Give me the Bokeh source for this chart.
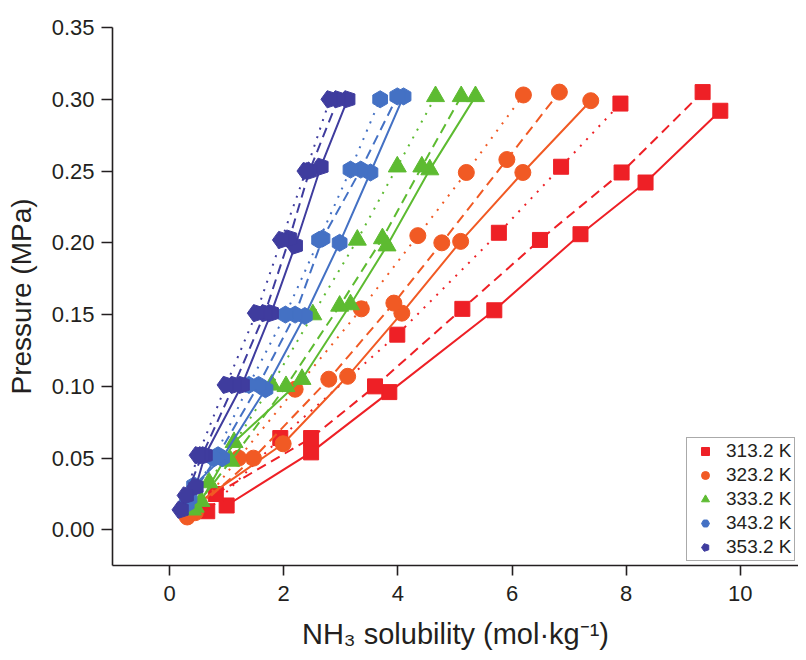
import math
from bokeh.plotting import figure
from bokeh.models import Range1d, FixedTicker, Legend, LegendItem, CustomJSTickFormatter
from bokeh.embed import file_html
from bokeh.resources import INLINE

# ---------------- data ----------------
temperatures = ["313.2 K", "323.2 K", "333.2 K", "343.2 K", "353.2 K"]
x_ticks = [0, 2, 4, 6, 8, 10]
y_ticks = [0.00, 0.05, 0.10, 0.15, 0.20, 0.25, 0.30, 0.35]

# 313.2 K
x313_solid = [1.00, 2.48, 3.85, 5.69, 7.20, 8.34, 9.65]
y313_solid = [0.017, 0.054, 0.096, 0.153, 0.206, 0.242, 0.292]
x313_dash = [0.81, 2.48, 3.60, 5.13, 6.49, 7.92, 9.34]
y313_dash = [0.025, 0.064, 0.100, 0.154, 0.202, 0.249, 0.305]
x313_dot = [0.66, 1.94, 3.99, 5.77, 6.86, 7.90]
y313_dot = [0.013, 0.064, 0.136, 0.207, 0.253, 0.297]

# 323.2 K
x323_solid = [0.40, 1.99, 3.12, 4.07, 5.10, 6.19, 7.38]
y323_solid = [0.016, 0.060, 0.107, 0.151, 0.201, 0.249, 0.299]
x323_dash = [0.31, 1.47, 2.79, 3.93, 4.77, 5.91, 6.83]
y323_dash = [0.009, 0.050, 0.105, 0.158, 0.200, 0.258, 0.305]
x323_dot = [0.45, 1.21, 2.20, 3.36, 4.35, 5.20, 6.20]
y323_dot = [0.012, 0.050, 0.098, 0.154, 0.205, 0.249, 0.303]

# 333.2 K
x333_solid = [0.55, 1.13, 2.32, 3.17, 3.81, 4.56, 5.36]
y333_solid = [0.020, 0.061, 0.105, 0.157, 0.198, 0.251, 0.302]
x333_dash = [0.45, 1.07, 2.04, 2.98, 3.73, 4.42, 5.11]
y333_dash = [0.016, 0.048, 0.100, 0.156, 0.203, 0.253, 0.302]
x333_dot = [0.40, 0.69, 1.79, 2.51, 3.29, 3.99, 4.66]
y333_dot = [0.014, 0.033, 0.101, 0.150, 0.202, 0.253, 0.302]

# 343.2 K
x343_solid = [0.43, 0.92, 1.68, 2.37, 2.98, 3.52, 4.10]
y343_solid = [0.031, 0.050, 0.098, 0.149, 0.200, 0.249, 0.302]
x343_dash = [0.35, 0.85, 1.56, 2.20, 2.68, 3.35, 3.99]
y343_dash = [0.022, 0.052, 0.101, 0.150, 0.203, 0.251, 0.302]
x343_dot = [0.30, 0.78, 1.39, 2.03, 2.62, 3.17, 3.69]
y343_dot = [0.018, 0.050, 0.101, 0.150, 0.202, 0.251, 0.300]

# 353.2 K
x353_solid = [0.46, 0.62, 1.27, 1.78, 2.20, 2.65, 3.12]
y353_solid = [0.030, 0.052, 0.101, 0.151, 0.198, 0.253, 0.300]
x353_dash = [0.29, 0.57, 1.13, 1.67, 2.10, 2.45, 2.95]
y353_dash = [0.024, 0.052, 0.101, 0.151, 0.203, 0.250, 0.300]
x353_dot = [0.20, 0.50, 0.99, 1.52, 1.96, 2.39, 2.81]
y353_dot = [0.014, 0.052, 0.101, 0.151, 0.202, 0.250, 0.300]

colors = ["#EE2026", "#F15A24", "#5DBB31", "#4471C4", "#3F3C9E"]
markers = ["square", "circle", "triangle", "hex", "pentagon"]

groups = [
    [(x313_solid, y313_solid), (x313_dash, y313_dash), (x313_dot, y313_dot)],
    [(x323_solid, y323_solid), (x323_dash, y323_dash), (x323_dot, y323_dot)],
    [(x333_solid, y333_solid), (x333_dash, y333_dash), (x333_dot, y333_dot)],
    [(x343_solid, y343_solid), (x343_dash, y343_dash), (x343_dot, y343_dot)],
    [(x353_solid, y353_solid), (x353_dash, y353_dash), (x353_dot, y353_dot)],
]
dashes = ["solid", "10 6", "2 7"]

# ---------------- figure ----------------
INK = "#231F20"
FONT = "Liberation Sans"

p = figure(width=798, height=652, output_backend="svg", toolbar_location=None,
           x_range=Range1d(-1.0, 11.02), y_range=Range1d(-0.0248, 0.35),
           min_border_left=112, min_border_right=0, min_border_top=27,
           min_border_bottom=81)
p.grid.visible = False
p.outline_line_color = None
p.background_fill_color = "white"
p.border_fill_color = "white"

for ax in (p.xaxis[0], p.yaxis[0]):
    ax.axis_line_color = INK
    ax.axis_line_width = 1.6
    ax.major_tick_line_color = INK
    ax.major_tick_line_width = 1.6
    ax.major_tick_in = 0
    ax.minor_tick_line_color = None
    ax.major_label_text_font = FONT
    ax.major_label_text_font_size = "22px"
    ax.major_label_text_color = INK
    ax.axis_label_text_font = FONT
    ax.axis_label_text_font_style = "normal"
    ax.axis_label_text_color = INK

p.xaxis.ticker = FixedTicker(ticks=x_ticks)
p.yaxis.ticker = FixedTicker(ticks=y_ticks)
p.yaxis.formatter = CustomJSTickFormatter(code="return tick.toFixed(2);")
p.xaxis.major_tick_out = 10
p.yaxis.major_tick_out = 11
p.xaxis.major_label_standoff = 10
p.yaxis.major_label_standoff = 7
p.xaxis.axis_label = "NH\u2083 solubility (mol\u00b7kg\u207b\u00b9)"
p.yaxis.axis_label = "Pressure (MPa)"
p.xaxis.axis_label_text_font_size = "29px"
p.yaxis.axis_label_text_font_size = "28px"
p.xaxis.axis_label_standoff = 14
p.yaxis.axis_label_standoff = 12

legend_items = []
for gi, series in enumerate(groups):
    c = colors[gi]
    first = None
    for si, (xs, ys) in enumerate(series):
        p.line(xs, ys, line_color=c, line_width=2, line_dash=dashes[si])
    for si, (xs, ys) in enumerate(series):
        if markers[gi] == "pentagon":
            r = p.ngon(x=xs, y=ys, radius=9, radius_units="screen", n=5,
                       angle=math.pi / 2, fill_color=c, line_color=c)
        elif markers[gi] == "hex":
            r = p.scatter(xs, ys, marker="hex", size=17, angle=math.pi / 6,
                          fill_color=c, line_color=c)
        elif markers[gi] == "triangle":
            r = p.scatter(xs, ys, marker="triangle", size=18, fill_color=c, line_color=c)
        elif markers[gi] == "circle":
            r = p.scatter(xs, ys, marker="circle", size=16, fill_color=c, line_color=c)
        else:
            r = p.scatter(xs, ys, marker=markers[gi], size=15, fill_color=c, line_color=c)
        if first is None:
            first = r
    legend_items.append(LegendItem(label=temperatures[gi], renderers=[first]))

legend = Legend(items=legend_items, location=(574, 4))
legend.label_text_font = FONT
legend.label_text_font_size = "19px"
legend.label_text_color = INK
legend.border_line_color = "#555555"
legend.border_line_width = 1
legend.background_fill_alpha = 1
legend.padding = 2
legend.spacing = 2
legend.glyph_height = 20
legend.label_height = 20
legend.glyph_width = 32
legend.label_standoff = 5
legend.margin = 0
p.add_layout(legend)

open("out.html", "w").write(file_html(p, INLINE))
